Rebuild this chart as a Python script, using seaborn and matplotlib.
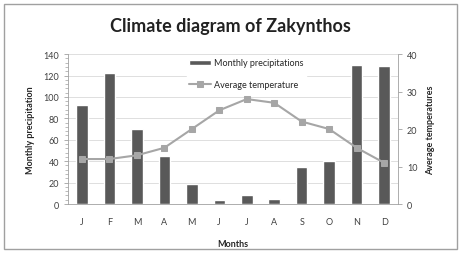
import matplotlib
matplotlib.use("Agg")
import matplotlib.pyplot as plt
import seaborn as sns
import pandas as pd
from matplotlib.patches import Rectangle
from matplotlib.ticker import MultipleLocator

months = ["J", "F", "M", "A", "M", "J", "J", "A", "S", "O", "N", "D"]
precip = [92, 122, 70, 45, 19, 4, 8, 5, 35, 40, 130, 129]
temps = [12, 12, 13, 15, 20, 25, 28, 27, 22, 20, 15, 11]

sns.set_style("white")
plt.rcParams["font.family"] = ["Lato", "DejaVu Sans"]

df = pd.DataFrame({"pos": range(len(months)), "month": months,
                   "precip": precip, "temp": temps})

fig = plt.figure(figsize=(4.61, 2.55), dpi=100)
ax = fig.add_axes([0.148, 0.196, 0.715, 0.588])

sns.barplot(data=df, x="pos", y="precip", color="#595959", width=0.42,
            saturation=1, ax=ax, label="Monthly precipitations", zorder=2)
ax.set_ylim(0, 140)
ax.yaxis.set_major_locator(MultipleLocator(20))
ax.yaxis.set_minor_locator(MultipleLocator(4))
ax.grid(axis="y", color="#d9d9d9", lw=0.6, zorder=0)
ax.set_axisbelow(True)
ax.set_xticks(range(len(months)))
ax.set_xticklabels(months)
ax.set_xlim(-0.5, len(months) - 0.5)
ax.set_xlabel("Months", fontsize=6.5, fontweight="bold", labelpad=10)
ax.set_ylabel("Monthly precipitation", fontsize=6.5, fontweight="bold", labelpad=6)
ax.tick_params(axis="both", labelsize=6.5, colors="#404040", length=3, width=0.6)
ax.tick_params(axis="y", which="minor", length=2, width=0.5, left=True, colors="#a0a0a0")
ax.tick_params(axis="y", which="major", left=True, colors="#a0a0a0", labelcolor="#404040")
ax.tick_params(axis="x", bottom=False, pad=6)
for s in ["top", "right"]:
    ax.spines[s].set_visible(False)
ax.spines["left"].set_color("#a0a0a0")
ax.spines["bottom"].set_color("#a0a0a0")
ax.spines["left"].set_linewidth(0.6)
ax.spines["bottom"].set_linewidth(0.6)

ax2 = ax.twinx()
sns.lineplot(data=df, x="pos", y="temp", color="#a6a6a6", marker="s",
             markersize=5, markeredgecolor="#a6a6a6", lw=1.5, ax=ax2,
             label="Average temperature", zorder=3)
ax2.set_ylim(0, 40)
ax2.yaxis.set_major_locator(MultipleLocator(10))
ax2.set_ylabel("Average temperatures", fontsize=6.5, fontweight="bold", labelpad=6)
ax2.tick_params(axis="y", labelsize=6.5, right=True, length=3, width=0.6,
                colors="#a0a0a0", labelcolor="#404040")
for s in ["top", "left", "bottom"]:
    ax2.spines[s].set_visible(False)
ax2.spines["right"].set_color("#a0a0a0")
ax2.spines["right"].set_linewidth(0.6)
ax2.set_xlim(-0.5, len(months) - 0.5)

h1, l1 = ax.get_legend_handles_labels()
h2, l2 = ax2.get_legend_handles_labels()
if ax.get_legend():
    ax.get_legend().remove()
ax2.legend(h1 + h2, l1 + l2, loc="upper center", bbox_to_anchor=(0.54, 1.02),
           fontsize=6.5, frameon=True, framealpha=1, edgecolor="white",
           handlelength=2.4, handleheight=0.5, labelspacing=1.4, borderpad=0.3,
           handletextpad=0.3)

fig.text(0.5, 0.895, "Climate diagram of Zakynthos", ha="center", va="center",
         fontsize=13, fontweight="bold", color="#222222")

fig.patches.append(Rectangle((0.008, 0.02), 0.984, 0.96, transform=fig.transFigure,
                             fill=False, edgecolor="#a0a0a0", lw=1.0))

fig.savefig("out.png", dpi=100)
